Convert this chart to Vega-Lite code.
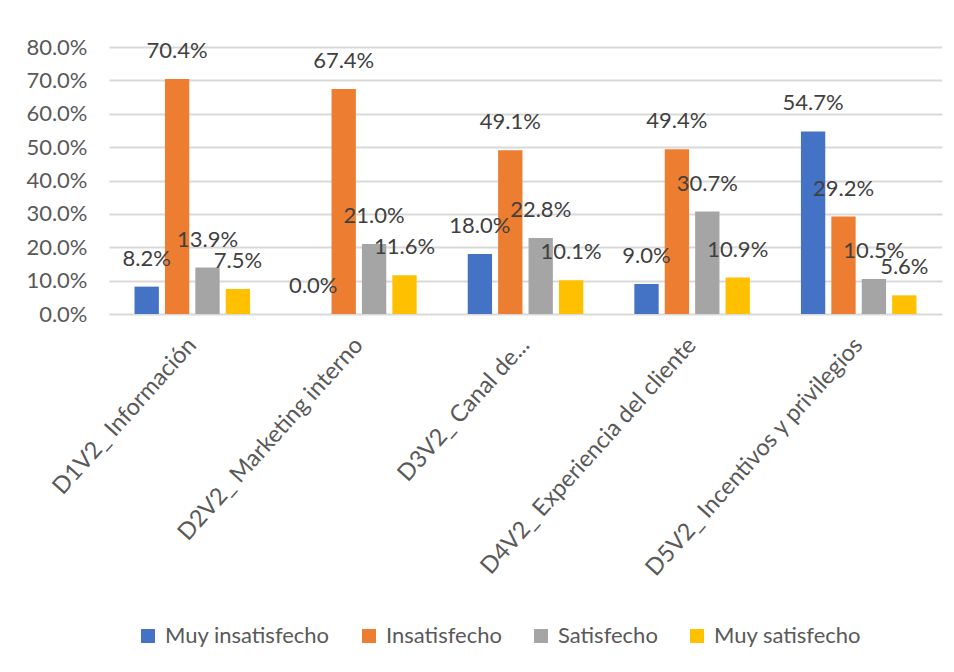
{
  "$schema": "https://vega.github.io/schema/vega-lite/v6.json",
  "width": 833,
  "height": 267,
  "autosize": {"type": "none"},
  "padding": {"left": 109, "top": 47, "right": 12, "bottom": 358},
  "background": "white",
  "config": {"view": {"stroke": null}},
  "data": {
    "values": [
      {"cat": "D1V2_ Información", "serie": "Muy insatisfecho", "v": 0.082},
      {"cat": "D1V2_ Información", "serie": "Insatisfecho", "v": 0.704},
      {"cat": "D1V2_ Información", "serie": "Satisfecho", "v": 0.139},
      {"cat": "D1V2_ Información", "serie": "Muy satisfecho", "v": 0.075},
      {"cat": "D2V2_ Marketing interno", "serie": "Muy insatisfecho", "v": 0.0},
      {"cat": "D2V2_ Marketing interno", "serie": "Insatisfecho", "v": 0.674},
      {"cat": "D2V2_ Marketing interno", "serie": "Satisfecho", "v": 0.21},
      {"cat": "D2V2_ Marketing interno", "serie": "Muy satisfecho", "v": 0.116},
      {"cat": "D3V2_  Canal de...", "serie": "Muy insatisfecho", "v": 0.18},
      {"cat": "D3V2_  Canal de...", "serie": "Insatisfecho", "v": 0.491},
      {"cat": "D3V2_  Canal de...", "serie": "Satisfecho", "v": 0.228},
      {"cat": "D3V2_  Canal de...", "serie": "Muy satisfecho", "v": 0.101},
      {"cat": "D4V2_ Experiencia del cliente", "serie": "Muy insatisfecho", "v": 0.09},
      {"cat": "D4V2_ Experiencia del cliente", "serie": "Insatisfecho", "v": 0.494},
      {"cat": "D4V2_ Experiencia del cliente", "serie": "Satisfecho", "v": 0.307},
      {"cat": "D4V2_ Experiencia del cliente", "serie": "Muy satisfecho", "v": 0.109},
      {"cat": "D5V2_ Incentivos y privilegios", "serie": "Muy insatisfecho", "v": 0.547},
      {"cat": "D5V2_ Incentivos y privilegios", "serie": "Insatisfecho", "v": 0.292},
      {"cat": "D5V2_ Incentivos y privilegios", "serie": "Satisfecho", "v": 0.105},
      {"cat": "D5V2_ Incentivos y privilegios", "serie": "Muy satisfecho", "v": 0.056}
    ]
  },
  "encoding": {
    "x": {
      "field": "cat",
      "type": "nominal",
      "sort": null,
      "scale": {"paddingInner": 0.27, "paddingOuter": 0.135},
      "axis": {
        "title": null,
        "domain": false,
        "ticks": false,
        "labelAngle": -48,
        "labelAlign": "right",
        "labelBaseline": "middle",
        "labelPadding": 27,
        "labelFont": "Lato",
        "labelFontSize": 23.5,
        "labelColor": "#595959",
        "labelLimit": 600,
        "labelOverlap": false
      }
    },
    "xOffset": {
      "field": "serie",
      "type": "nominal",
      "sort": ["Muy insatisfecho", "Insatisfecho", "Satisfecho", "Muy satisfecho"],
      "scale": {"paddingInner": 0.2, "paddingOuter": 0.1}
    },
    "y": {
      "field": "v",
      "type": "quantitative",
      "scale": {"domain": [0, 0.8], "nice": false},
      "axis": {
        "title": null,
        "domain": false,
        "ticks": false,
        "values": [0, 0.1, 0.2, 0.3, 0.4, 0.5, 0.6, 0.7, 0.8],
        "format": ".1%",
        "labelPadding": 22,
        "labelFont": "Lato",
        "labelFontSize": 22,
        "labelColor": "#595959",
        "gridColor": "#D9D9D9",
        "gridWidth": 2
      }
    }
  },
  "layer": [
    {
      "mark": {"type": "bar"},
      "encoding": {
        "color": {
          "field": "serie",
          "type": "nominal",
          "sort": ["Muy insatisfecho", "Insatisfecho", "Satisfecho", "Muy satisfecho"],
          "scale": {
            "domain": ["Muy insatisfecho", "Insatisfecho", "Satisfecho", "Muy satisfecho"],
            "range": ["#4472C4", "#ED7D31", "#A5A5A5", "#FFC000"]
          },
          "legend": {
            "orient": "none",
            "legendX": 28,
            "legendY": 578,
            "direction": "horizontal",
            "title": null,
            "symbolType": "square",
            "symbolSize": 196,
            "symbolStrokeWidth": 0,
            "labelFont": "Lato",
            "labelFontSize": 22,
            "labelColor": "#595959",
            "labelOffset": 6,
            "labelLimit": 400,
            "columnPadding": 28
          }
        }
      }
    },
    {
      "mark": {
        "type": "text",
        "baseline": "alphabetic",
        "dy": -21,
        "font": "Lato",
        "fontSize": 22,
        "color": "#404040"
      },
      "encoding": {
        "text": {"field": "v", "type": "quantitative", "format": ".1%"}
      }
    }
  ]
}
